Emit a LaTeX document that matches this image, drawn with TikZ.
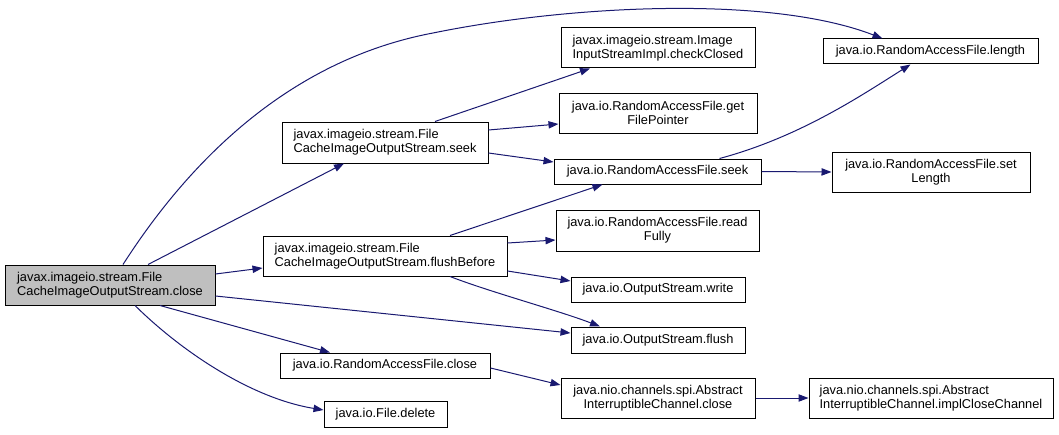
\documentclass[tikz,border=0pt]{standalone}
\usepackage{fontspec}
\setmainfont{Liberation Sans}
\usetikzlibrary{arrows.meta,calc}
\definecolor{edgeblue}{HTML}{191970}
\definecolor{mainfill}{HTML}{BFBFBF}
\begin{document}
\begin{tikzpicture}[x=0.75pt,y=-0.75pt,
  fn/.style={draw=black, line width=0.75pt, fill=white, inner sep=1pt,
    font=\fontsize{9.6}{10.5}\selectfont, anchor=center},
  box/.style 2 args={minimum width=#1*0.75pt, minimum height=#2*0.75pt},
  e/.style={draw=edgeblue, line width=0.75pt, -{Triangle[length=7.5pt,width=5.5pt]}}]
\useasboundingbox (0,0) rectangle (1059,435);
% nodes
\node[fn, box={210}{40}, align=left, fill=mainfill] (close) at (110,285) {javax.imageio.stream.File\\CacheImageOutputStream.close};
\node[fn, box={206}{41}, align=left] (seek) at (385,142.5) {javax.imageio.stream.File\\CacheImageOutputStream.seek};
\node[fn, box={244}{40}, align=left] (flushB) at (385,256) {javax.imageio.stream.File\\CacheImageOutputStream.flushBefore};
\node[fn, box={210}{25}] (rafclose) at (385,365.5) {java.io.RandomAccessFile.close};
\node[fn, box={123}{26}] (delete) at (385.5,414) {java.io.File.delete};
\node[fn, box={194}{40}, align=left] (check) at (658,48) {javax.imageio.stream.Image\\InputStreamImpl.checkClosed};
\node[fn, box={198}{40}, align=center] (gfp) at (658,113) {java.io.RandomAccessFile.get\\FilePointer};
\node[fn, box={207}{25}] (rafseek) at (657.5,171.5) {java.io.RandomAccessFile.seek};
\node[fn, box={215}{25}] (length) at (930.5,51.5) {java.io.RandomAccessFile.length};
\node[fn, box={198}{40}, align=center] (setlen) at (931,172) {java.io.RandomAccessFile.set\\Length};
\node[fn, box={203}{41}, align=center] (readf) at (657.5,230.5) {java.io.RandomAccessFile.read\\Fully};
\node[fn, box={174}{25}] (write) at (658,289.5) {java.io.OutputStream.write};
\node[fn, box={174}{26}] (flush) at (658,340) {java.io.OutputStream.flush};
\node[fn, box={194}{40}, align=center] (aicclose) at (658,398) {java.nio.channels.spi.Abstract\\InterruptibleChannel.close};
\node[fn, box={244}{40}, align=left] (impl) at (931,398) {java.nio.channels.spi.Abstract\\InterruptibleChannel.implCloseChannel};
% edges
\coordinate (mid) at (433,33);
\draw[e] ($(close.north)+(13,0)$) .. controls (190,160) and (290,60) .. (mid) .. controls (570,5) and (770,-5) .. ($(length.north)+(-48,0)$);
\draw[e] ($(close.north)+(38,0)$) -- ($(seek.south)+(-41,0)$);
\draw[e] ($(close.east)+(0,-11)$) -- ($(flushB.west)+(0,12)$);
\draw[e] ($(close.east)+(0,11)$) -- ($(flush.west)+(0,-7)$);
\draw[e] ($(close.south)+(50,0)$) -- ($(rafclose.north)+(-55,0)$);
\draw[e] ($(close.south)+(25,0)$) .. controls (180,350) and (250,398) .. ($(delete.west)+(0,-4)$);
\draw[e] ($(seek.north)+(50,0)$) -- ($(check.south)+(-68,0)$);
\draw[e] ($(seek.east)+(0,-12.5)$) -- ($(gfp.west)+(0,11)$);
\draw[e] ($(seek.east)+(0,10.5)$) -- ($(rafseek.west)+(0,-9.5)$);
\draw[e] ($(rafseek.north)+(62,0)$) .. controls (800,137) and (862,95) .. ($(length.south)+(-20,0)$);
\draw[e] (rafseek.east) -- (setlen.west);
\draw[e] ($(flushB.north)+(65,0)$) -- ($(rafseek.south)+(-55,0)$);
\draw[e] ($(flushB.east)+(0,-13)$) -- ($(readf.west)+(0,9.5)$);
\draw[e] ($(flushB.east)+(0,15)$) -- ($(write.west)+(0,-8.5)$);
\draw[e] ($(flushB.south)+(65,0)$) .. controls (490,292) and (560,311) .. ($(flush.north)+(-58,0)$);
\draw[e] ($(rafclose.east)+(0,2.5)$) -- ($(aicclose.west)+(0,-13)$);
\draw[e] (aicclose.east) -- (impl.west);
\end{tikzpicture}
\end{document}
